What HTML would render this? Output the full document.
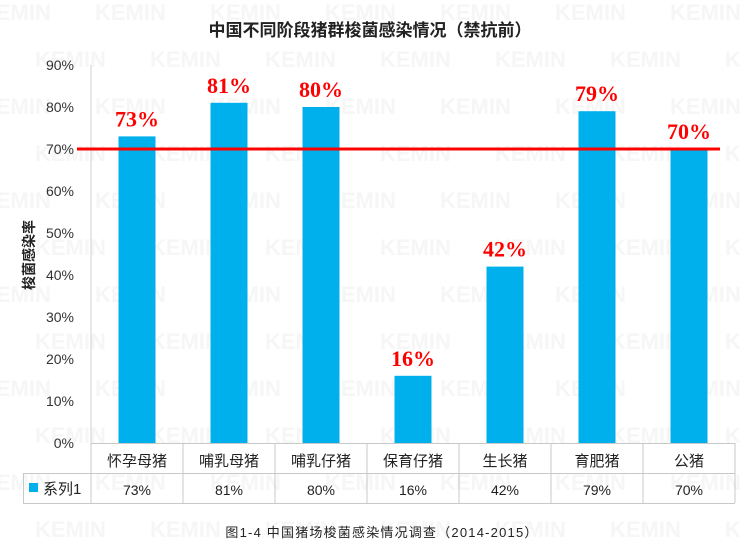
<!DOCTYPE html>
<html><head><meta charset="utf-8"><style>
body{margin:0;background:#fff;font-family:"Liberation Sans","Noto Sans CJK SC",sans-serif;}
svg{display:block}
</style></head><body>
<svg id="c" width="740" height="557">
<g id="wm"></g>
<text x="370" y="36" text-anchor="middle" font-size="17" font-weight="bold" fill="#222" font-family="Liberation Sans,Noto Sans CJK SC,sans-serif">中国不同阶段猪群梭菌感染情况（禁抗前）</text>
<text transform="translate(34,255) rotate(-90)" text-anchor="middle" font-size="14" font-weight="bold" fill="#222" font-family="Liberation Sans,Noto Sans CJK SC,sans-serif">梭菌感染率</text>
<g id="g"></g>
<text x="382" y="537" text-anchor="middle" font-size="13" fill="#222" letter-spacing="1.2" font-family="Liberation Sans,Noto Sans CJK SC,sans-serif">图1-4  中国猪场梭菌感染情况调查（2014-2015）</text>
</svg>
<script>
const categories=["怀孕母猪","哺乳母猪","哺乳仔猪","保育仔猪","生长猪","育肥猪","公猪"];
const values=[73,81,80,16,42,79,70];
const yTicks=[0,10,20,30,40,50,60,70,80,90];
const threshold=[70];
const NS="http://www.w3.org/2000/svg";
const L=91,W=92,Y0=443,PX=4.2;
const x=i=>L+W*i+W/2, y=v=>Y0-v*PX;
const g=document.getElementById('g'), wm=document.getElementById('wm');
function mk(t,a,p){const e=document.createElementNS(NS,t);for(const k in a)e.setAttribute(k,a[k]);(p||g).appendChild(e);return e;}
for(let r=0;r<12;r++)for(let c=0;c<7;c++){const t=mk('text',{x:c*115+(r%2)*55-20,y:r*47+20,'font-size':22,'font-weight':'bold',fill:'#f6f6f6'},wm);t.textContent='KEMIN';}
mk('line',{x1:L,y1:65,x2:L,y2:Y0,stroke:'#d0d0d0','stroke-width':1});
yTicks.forEach(v=>{const t=mk('text',{x:74,y:y(v)+5,'text-anchor':'end','font-size':14,fill:'#333'});t.textContent=v+'%';});
values.forEach((v,i)=>{
 const b=mk('rect',{x:x(i)-18.5,y:y(v),width:37,height:v*PX,fill:'#00b0ec'});
 
 const t=mk('text',{x:x(i),y:y(v)-10,'text-anchor':'middle','font-size':22,'font-weight':'bold',fill:'#ff0000','font-family':'Liberation Serif,serif'});
 t.textContent=v+'%';
});
const rl=mk('line',{x1:77,y1:y(threshold[0]),x2:720,y2:y(threshold[0]),stroke:'#ff0000','stroke-width':3});

const R=L+W*7;
const st={stroke:'#c8c8c8','stroke-width':1};
mk('line',Object.assign({x1:L,y1:Y0+0.5,x2:R,y2:Y0+0.5},st));
mk('line',Object.assign({x1:23,y1:473.5,x2:R,y2:473.5},st));
mk('line',Object.assign({x1:23,y1:503.5,x2:R,y2:503.5},st));
mk('line',Object.assign({x1:23.5,y1:473,x2:23.5,y2:503},st));
for(let i=0;i<=7;i++)mk('line',Object.assign({x1:L+W*i,y1:Y0,x2:L+W*i,y2:503},st));
categories.forEach((c,i)=>{
 const t=mk('text',{x:x(i),y:466,'text-anchor':'middle','font-size':15,fill:'#222'});
 t.textContent=c;
 const d=mk('text',{x:x(i),y:495,'text-anchor':'middle','font-size':14,fill:'#222'});
 d.textContent=values[i]+'%';
});
const lk=mk('rect',{x:29,y:483,width:9,height:9,fill:'#00b0ec'});

const lt=mk('text',{x:43,y:494,'font-size':15,fill:'#222'});
lt.textContent='系列1';
</script>
</body></html>
